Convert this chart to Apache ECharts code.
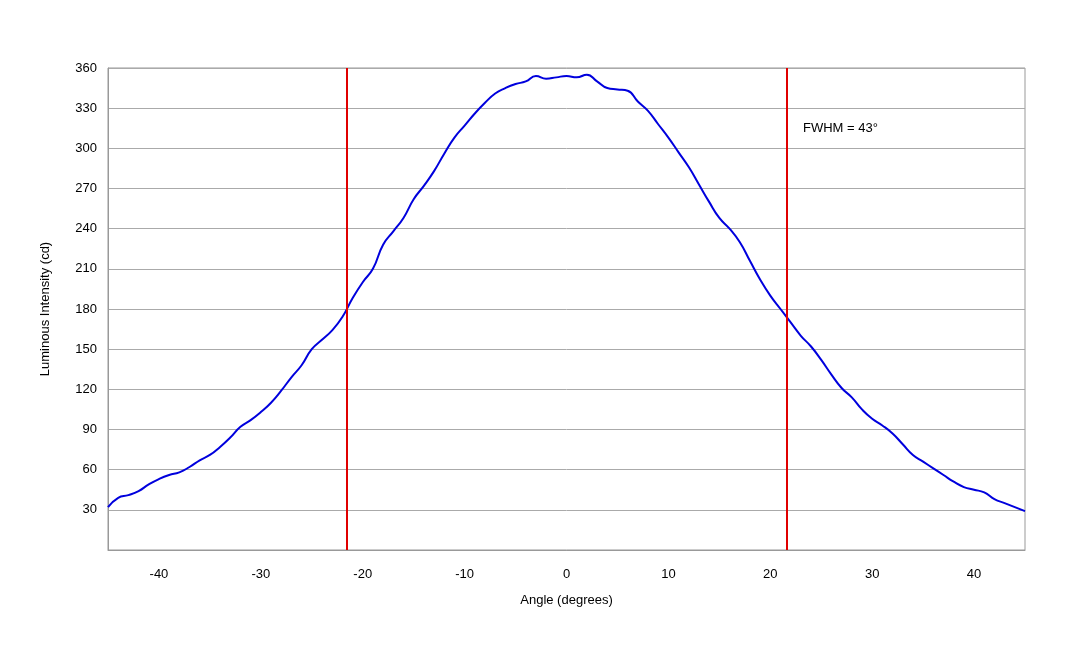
<!DOCTYPE html>
<html><head><meta charset="utf-8">
<script src="https://cdn.jsdelivr.net/npm/echarts@6/dist/echarts.min.js"></script>
<style>html,body{margin:0;background:#fff}#c{width:1080px;height:648px}</style>
</head><body><div id="c"></div>
<script>
const angles = [];
for (let a = -45; a <= 45; a++) angles.push(a);
const intensity = [32,39,41,44,49,53,56,58,62,67,71,77,84,92,97,103,110,119,129,138,150,157,164,174,188,200,210,228,238,248,262,272,283,296,308,317,326,334,341,345,348,350,354,352,353,354,353,355,350,345,344,343,335,328,318,308,297,286,273,260,248,240,230,216,202,190,180,170,160,152,142,131,121,114,105,98,93,87,79,71,66,61,56,51,47,45,43,38,35,32,29];
const fwhmLines = [-21.6, 21.6];
const fwhmLabel = 'FWHM = 43°';
const yTicks = [30,60,90,120,150,180,210,240,270,300,330,360];

const font = 'Liberation Sans, Arial, sans-serif';
const chart = echarts.init(document.getElementById('c'));
chart.setOption({
  animation: false,
  grid: {left:108, right:55, top:68, bottom:98, show:true, borderColor:'#999', borderWidth:1},
  xAxis: {type:'value', min:-45, max:45, interval:10,
    name:'Angle (degrees)', nameLocation:'middle', nameGap:44,
    nameTextStyle:{fontFamily:font, fontSize:13, color:'#000'},
    axisLine:{lineStyle:{color:'#999'}}, axisTick:{show:false},
    axisLabel:{fontFamily:font, fontSize:13, color:'#000', margin:18,
      customValues:[-40,-30,-20,-10,0,10,20,30,40]},
    splitLine:{show:false}},
  yAxis: {type:'value', min:0, max:360, interval:30,
    name:'Luminous Intensity (cd)', nameLocation:'middle', nameGap:56,
    nameTextStyle:{fontFamily:font, fontSize:13, color:'#000'},
    axisLine:{show:true, onZero:false, lineStyle:{color:'#999'}}, axisTick:{show:false},
    axisLabel:{fontFamily:font, fontSize:13, color:'#000', margin:11, formatter:v=> yTicks.includes(v)? String(v):''},
    splitLine:{lineStyle:{color:'#aaa'}}},
  series: [{type:'line', smooth:true, showSymbol:false,
    data: angles.map((a,i)=>[a,intensity[i]]),
    lineStyle:{color:'#0000dd', width:2},
    markLine:{silent:true, symbol:'none', label:{show:false},
      lineStyle:{color:'#e00000', width:2, type:'solid'},
      data: fwhmLines.map(x=>({xAxis:x}))}}],
  graphic: [{type:'text', left:803, top:122, style:{text:fwhmLabel, font:'13px '+font, fill:'#000'}}]
});
</script></body></html>
